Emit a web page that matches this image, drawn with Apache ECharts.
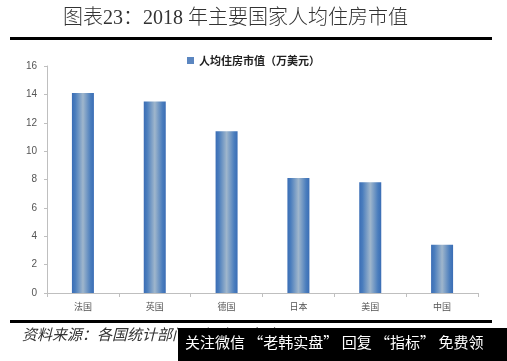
<!DOCTYPE html>
<html>
<head>
<meta charset="utf-8">
<script src="https://cdn.jsdelivr.net/npm/echarts@6/dist/echarts.min.js"></script>
<style>html,body{margin:0;padding:0;background:#fff}#c{width:507px;height:361px}</style>
</head>
<body>
<div id="c"></div>
<script>
var categories = ['法国', '英国', '德国', '日本', '美国', '中国'];
var values = [14.1, 13.5, 11.4, 8.1, 7.8, 3.4];
var seriesName = '人均住房市值（万美元）';
var titleText = '图表23：2018 年主要国家人均住房市值';
var sourceText = '资料来源：各国统计部门，恒大研究院';
var watermarkText = '关注微信 “老韩实盘” 回复 “指标” 免费领';

var chart = echarts.init(document.getElementById('c'));
var barColor = new echarts.graphic.LinearGradient(0, 0, 1, 0, [
  {offset: 0, color: '#3a6db5'},
  {offset: 0.15, color: '#4a7dbd'},
  {offset: 0.5, color: '#9fb6cc'},
  {offset: 0.85, color: '#4a7dbd'},
  {offset: 1, color: '#3a6db5'}
]);
chart.setOption({
  animation: false,
  backgroundColor: '#fff',
  legend: {
    top: 50, left: 'center',
    itemWidth: 7, itemHeight: 7, itemGap: 4,
    icon: 'rect',
    textStyle: {fontSize: 11, fontWeight: 'bold', color: '#222', fontFamily: 'Noto Sans CJK SC'},
    data: [{name: seriesName, itemStyle: {color: '#5b86c0'}}]
  },
  grid: {left: 47, right: 29, top: 66, bottom: 68},
  xAxis: {
    type: 'category', data: categories,
    axisLine: {lineStyle: {color: '#bfbfbf'}},
    axisTick: {show: true, length: 4, lineStyle: {color: '#bfbfbf'}},
    axisLabel: {fontSize: 9, color: '#555', margin: 9, fontFamily: 'Noto Sans CJK SC'}
  },
  yAxis: {
    type: 'value', min: 0, max: 16, interval: 2,
    axisLine: {show: true, lineStyle: {color: '#bfbfbf'}},
    axisTick: {show: true, length: 3, lineStyle: {color: '#bfbfbf'}},
    splitLine: {show: false},
    axisLabel: {fontSize: 10, color: '#555', margin: 10, fontFamily: 'Liberation Sans'}
  },
  series: [{
    name: seriesName, type: 'bar', data: values, barWidth: 22,
    itemStyle: {color: barColor}
  }],
  graphic: [
    {type: 'text', left: 63, top: 9, style: {text: titleText, font: '300 20px "Liberation Serif", "Noto Sans CJK SC"', fill: '#333'}},
    {type: 'rect', shape: {x: 10, y: 37, width: 482, height: 3}, style: {fill: '#000'}},
    {type: 'rect', shape: {x: 10, y: 320, width: 482, height: 3}, style: {fill: '#000'}},
    {type: 'text', left: 22, top: 327, style: {text: sourceText, font: 'italic 15px "Noto Sans CJK SC"', fill: '#333'}},
    {type: 'rect', shape: {x: 178, y: 328, width: 329, height: 33}, style: {fill: '#000'}},
    {type: 'text', left: 185, top: 335, style: {text: watermarkText, font: '15px "Noto Sans CJK SC"', fill: '#fff'}}
  ]
});
</script>
</body>
</html>
